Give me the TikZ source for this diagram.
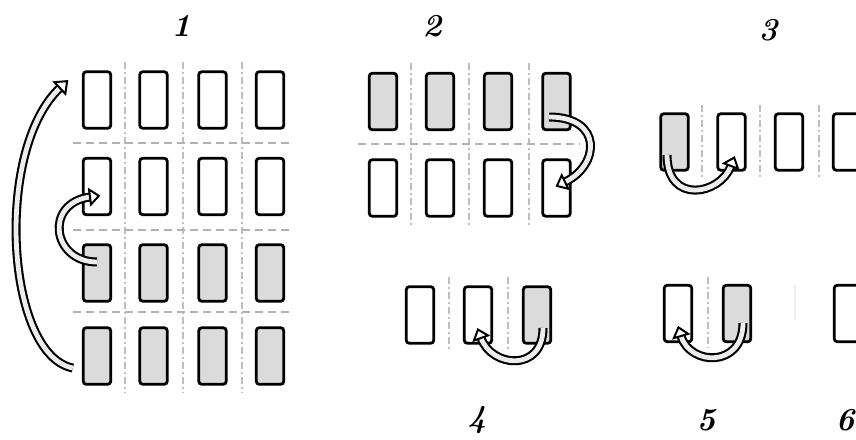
\documentclass[tikz,border=0pt]{standalone}
\usetikzlibrary{calc}
\begin{document}
\begin{tikzpicture}[x=1pt,y=-1pt,
  box/.style={draw, line width=2.8pt, rounded corners=3pt, minimum width=27.5pt, minimum height=56.5pt, inner sep=0pt, fill=white},
  gbox/.style={box, fill=gray!28},
  vdash/.style={gray!50, line width=1.3pt, dash pattern=on 7pt off 3pt on 2pt off 3pt},
  hdash/.style={gray!60, line width=1.5pt, dash pattern=on 8pt off 5pt},
  shaft/.style={line width=2.1pt, double=gray!14, double distance=4.8pt},
  ahead/.style={fill=white, line width=2pt, line join=miter},
  lbl/.style={font=\fontsize{32}{36}\selectfont\bfseries\itshape, inner sep=0pt}
]
\useasboundingbox (0,0) rectangle (856,439);
\clip (0,0) rectangle (856,439);
\fill[white] (0,0) rectangle (856,439);

% ---------- dashed grid lines ----------
\foreach \x in {125,183,242} \draw[vdash] (\x,62) -- (\x,393);
\foreach \y in {143,230,312} \draw[hdash] (73,\y) -- (293,\y);
\foreach \x in {411,469,529} \draw[vdash] (\x,63) -- (\x,225);
\draw[hdash] (358,144) -- (580,144);
\foreach \x in {702,760,819} \draw[vdash] (\x,105) -- (\x,178);
\foreach \x in {449,508} \draw[vdash] (\x,277) -- (\x,350);
\draw[vdash] (708,277) -- (708,348);
\draw[gray!12, line width=1.3pt] (795,285) -- (795,320);

% ---------- panel 1 ----------
\foreach \x [count=\i] in {97,153.5,212.5,270}
  \foreach \y/\s [count=\j] in {100/box,186.5/box,273/gbox,356/gbox}
    \node[\s] (a\j\i) at (\x,\y) {};

% ---------- panel 2 ----------
\foreach \x [count=\i] in {383,440,498,556.5} {
  \node[gbox] (b1\i) at (\x,101.5) {};
  \node[box] (b2\i) at (\x,188) {};
}

% ---------- panel 3 ----------
\node[gbox] (c1) at (674.5,142) {};
\node[box] (c2) at (731.5,142) {};
\node[box] (c3) at (789,142) {};
\node[box] (c4) at (847,142) {};

% ---------- panel 4 ----------
\node[box] (d1) at (420,315) {};
\node[box] (d2) at (478,315) {};
\node[gbox] (d3) at (537,315) {};

% ---------- panel 5 / 6 ----------
\node[box] (e1) at (678,313.5) {};
\node[gbox] (e2) at (737,313.5) {};
\node[box] (f1) at (848,313.5) {};

% ---------- arrows ----------
% big arrow, panel 1
\coordinate (t1) at ($(a41.west)+(-9,12)$);
\coordinate (h1) at ($(a11.west)+(-22,-12)$);
\coordinate (h1c) at ($(h1)+(-66,62)$);
\draw[shaft] (t1) .. controls +(-67,-13) and (h1c) .. (h1);
\draw[ahead] ($(h1)!8pt!90:(h1c)$) -- ($(h1)!-10pt!(h1c)$) -- ($(h1)!8pt!-90:(h1c)$) -- cycle;

% small arrow, panel 1
\coordinate (t2) at ($(a31.center)+(0,-11)$);
\coordinate (h2) at ($(a21.center)+(-7,10.5)$);
\coordinate (h2c) at ($(h2)+(-46,6)$);
\draw[shaft] (t2) .. controls +(-45,0) and (h2c) .. (h2);
\draw[ahead] ($(h2)!7.5pt!90:(h2c)$) -- ($(h2)!-9pt!(h2c)$) -- ($(h2)!7.5pt!-90:(h2c)$) -- cycle;

% panel 2
\coordinate (t3) at ($(b14.center)+(-7.5,15.5)$);
\coordinate (h3) at ($(b24.center)+(8.5,-6)$);
\coordinate (h3c) at ($(h3)+(35,-17)$);
\draw[shaft] (t3) .. controls +(54,0) and (h3c) .. (h3);
\draw[ahead] ($(h3)!7.5pt!90:(h3c)$) -- ($(h3)!-9pt!(h3c)$) -- ($(h3)!7.5pt!-90:(h3c)$) -- cycle;

% panel 3
\coordinate (t4) at ($(c1.center)+(-7.5,13)$);
\coordinate (h4) at ($(c2.center)+(-0.5,24)$);
\coordinate (h4c) at ($(h4)+(-11,29)$);
\draw[shaft] (t4) .. controls +(0,50) and (h4c) .. (h4);
\draw[ahead] ($(h4)!7.5pt!90:(h4c)$) -- ($(h4)!-9pt!(h4c)$) -- ($(h4)!7.5pt!-90:(h4c)$) -- cycle;

% panel 4
\coordinate (t5) at ($(d3.center)+(6,13)$);
\coordinate (h5) at ($(d2.center)+(3,23)$);
\coordinate (h5c) at ($(h5)+(11,30)$);
\draw[shaft] (t5) .. controls +(0,44) and (h5c) .. (h5);
\draw[ahead] ($(h5)!7.5pt!90:(h5c)$) -- ($(h5)!-9pt!(h5c)$) -- ($(h5)!7.5pt!-90:(h5c)$) -- cycle;

% panel 5
\coordinate (t6) at ($(e2.center)+(6,9.5)$);
\coordinate (h6) at ($(e1.center)+(3,22.5)$);
\coordinate (h6c) at ($(h6)+(9,30)$);
\draw[shaft] (t6) .. controls +(0,45) and (h6c) .. (h6);
\draw[ahead] ($(h6)!7.5pt!90:(h6c)$) -- ($(h6)!-9pt!(h6c)$) -- ($(h6)!7.5pt!-90:(h6c)$) -- cycle;

% ---------- labels ----------
\node[lbl] (l1) at (181,26) {1};
\node[lbl] (l2) at (432,26) {2};
\node[lbl] (l3) at (768,30) {3};
\node[lbl] (l4) at (477,420) {4};
\node[lbl] (l5) at (706,420) {5};
\node[lbl] (l6) at (845,420) {6};
\end{tikzpicture}
\end{document}
